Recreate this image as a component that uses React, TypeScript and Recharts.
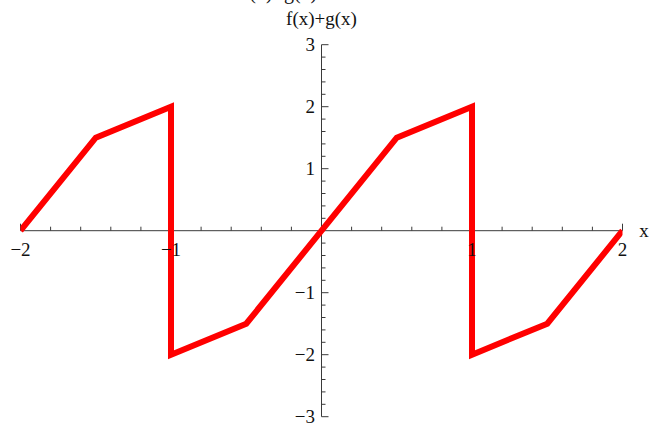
import { ComposedChart, Line, ReferenceLine, Scatter, XAxis, YAxis } from 'recharts';

// piecewise-linear sum of the two functions on [-2, 2]
const curve = [
  { x: -2, y: 0 },
  { x: -1.5, y: 1.5 },
  { x: -1, y: 2 },
  { x: -1, y: -2 },
  { x: -0.5, y: -1.5 },
  { x: 0.5, y: 1.5 },
  { x: 1, y: 2 },
  { x: 1, y: -2 },
  { x: 1.5, y: -1.5 },
  { x: 2, y: 0 },
];

const xMajorTicks = [-2, -1, 1, 2];
const xMinorTicks = [
  -1.8, -1.6, -1.4, -1.2, -0.8, -0.6, -0.4, -0.2,
  0.2, 0.4, 0.6, 0.8, 1.2, 1.4, 1.6, 1.8,
];
const yMajorTicks = [3, 2, 1, -1, -2, -3];
const yMinorTicks = [
  2.8, 2.6, 2.4, 2.2, 1.8, 1.6, 1.4, 1.2, 0.8, 0.6, 0.4, 0.2,
  -0.2, -0.4, -0.6, -0.8, -1.2, -1.4, -1.6, -1.8, -2.2, -2.4, -2.6, -2.8,
];

const PLOT_LABEL = 'f(x)+g(x)';
const Y_NAME = 'f(x)+g(x)';
const X_NAME = 'x';

const FONT = '"Liberation Serif", "Times New Roman", serif';
const AXIS = '#3a3a3a';
const TEXT = '#111';

const fmt = (v: number) => (v < 0 ? `\u2212${Math.abs(v)}` : `${v}`);

const onX = (vals: number[]) => vals.map((x) => ({ x, y: 0 }));
const onY = (vals: number[]) => vals.map((y) => ({ x: 0, y }));

// tick marks (under the curve)
const XMinor = (p: any) => (
  <line x1={p.cx} x2={p.cx} y1={p.cy} y2={p.cy - 4} stroke={AXIS} strokeWidth={1} />
);
const XMajor = (p: any) => (
  <line x1={p.cx} x2={p.cx} y1={p.cy} y2={p.cy - 7} stroke={AXIS} strokeWidth={1} />
);
const YMinor = (p: any) => (
  <line x1={p.cx} x2={p.cx + 4} y1={p.cy} y2={p.cy} stroke={AXIS} strokeWidth={1} />
);
const YMajor = (p: any) => (
  <line x1={p.cx} x2={p.cx + 7} y1={p.cy} y2={p.cy} stroke={AXIS} strokeWidth={1} />
);

// tick and axis labels (over the curve)
const XTickLabel = (p: any) => (
  <text x={p.cx} y={p.cy + 25.5} textAnchor="middle" fontFamily={FONT} fontSize={19} fill={TEXT}>
    {fmt(p.payload.x)}
  </text>
);
const YTickLabel = (p: any) => (
  <text x={p.cx - 6.5} y={p.cy + 6.5} textAnchor="end" fontFamily={FONT} fontSize={19} fill={TEXT}>
    {fmt(p.payload.y)}
  </text>
);
const YName = (p: any) => (
  <text x={p.cx} y={p.cy - 20} textAnchor="middle" fontFamily={FONT} fontSize={19} fill={TEXT}>
    {Y_NAME}
  </text>
);
const XName = (p: any) => (
  <text x={p.cx + 21.5} y={p.cy + 6.5} textAnchor="middle" fontFamily={FONT} fontSize={19} fill={TEXT}>
    {X_NAME}
  </text>
);

export default function App() {
  return (
    <div style={{ position: 'absolute', left: 0, top: 0, width: 649, height: 430, background: '#fff' }}>
      <ComposedChart
        width={649}
        height={430}
        margin={{ top: 44.7, right: 26.5, bottom: 13.3, left: 20.5 }}
      >
        {/* the curve's axis clips the line ends at x = ±2 */}
        <XAxis xAxisId="curve" type="number" dataKey="x" domain={[-2, 2]} allowDataOverflow hide />
        <XAxis xAxisId="frame" type="number" dataKey="x" domain={[-2, 2]} hide />
        <YAxis type="number" dataKey="y" domain={[-3, 3]} hide />

        <ReferenceLine xAxisId="frame" y={0} stroke={AXIS} strokeWidth={1} zIndex={300} />
        <ReferenceLine xAxisId="frame" x={0} stroke={AXIS} strokeWidth={1} zIndex={300} />

        <Scatter xAxisId="frame" data={onX(xMinorTicks)} shape={XMinor} isAnimationActive={false} legendType="none" zIndex={300} />
        <Scatter xAxisId="frame" data={onX(xMajorTicks)} shape={XMajor} isAnimationActive={false} legendType="none" zIndex={300} />
        <Scatter xAxisId="frame" data={onY(yMinorTicks)} shape={YMinor} isAnimationActive={false} legendType="none" zIndex={300} />
        <Scatter xAxisId="frame" data={onY(yMajorTicks)} shape={YMajor} isAnimationActive={false} legendType="none" zIndex={300} />

        <Line
          xAxisId="curve"
          data={curve}
          dataKey="y"
          type="linear"
          stroke="#ff0000"
          strokeWidth={6}
          dot={false}
          activeDot={false}
          isAnimationActive={false}
          zIndex={900}
        />

        <Scatter xAxisId="frame" data={onX(xMajorTicks)} shape={XTickLabel} isAnimationActive={false} legendType="none" zIndex={1500} />
        <Scatter xAxisId="frame" data={onY(yMajorTicks)} shape={YTickLabel} isAnimationActive={false} legendType="none" zIndex={1500} />
        <Scatter xAxisId="frame" data={[{ x: 0, y: 3 }]} shape={YName} isAnimationActive={false} legendType="none" zIndex={1500} />
        <Scatter xAxisId="frame" data={[{ x: 2, y: 0 }]} shape={XName} isAnimationActive={false} legendType="none" zIndex={1500} />
      </ComposedChart>
      {/* plot label sits above the frame, mostly cut off by the page top */}
      <svg
        width={649}
        height={430}
        style={{ position: 'absolute', left: 0, top: 0, pointerEvents: 'none' }}
      >
        <text x={280} y={-1} textAnchor="middle" fontFamily={FONT} fontSize={20} fill={TEXT}>
          {PLOT_LABEL}
        </text>
      </svg>
    </div>
  );
}
